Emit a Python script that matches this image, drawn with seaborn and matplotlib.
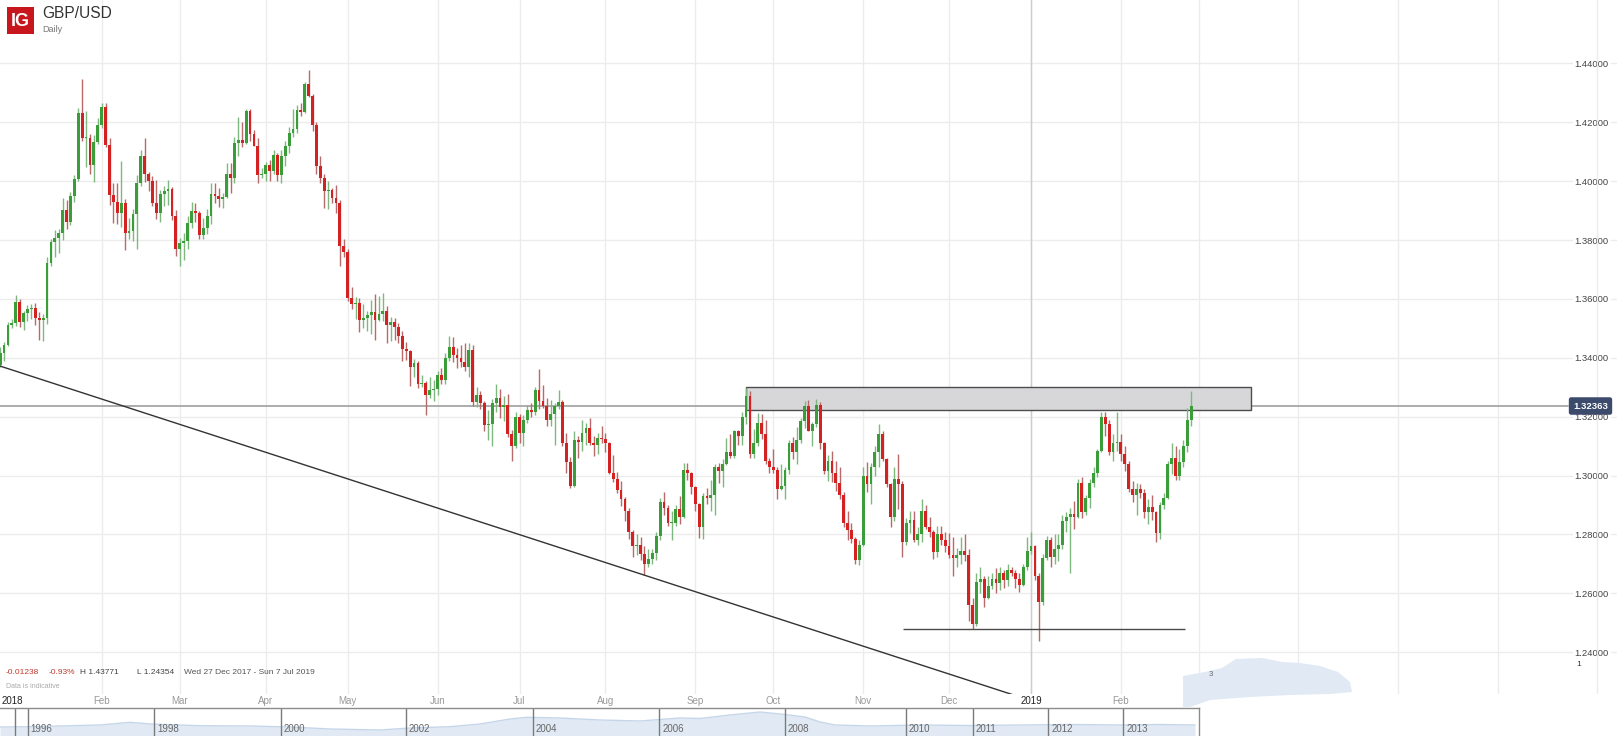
import numpy as np
import pandas as pd
import matplotlib
matplotlib.use("Agg")
import matplotlib.pyplot as plt
import seaborn as sns
from matplotlib.patches import Rectangle, Polygon

sns.set_theme(style="white")
plt.rcParams['font.family'] = ['Liberation Sans', 'DejaVu Sans']

# ---------------- data (GBP/USD daily, values in pips above 1.0000) ----------------
opens = [
    3375, 3416, 3445,
    3513, 3518, 3589, 3522, 3551, 3567, 3570, 3536, 3527, 3536, 3722, 3793, 3806, 3825, 3902, 3860, 3950, 4006, 4230, 4146, 4148, 4056, 4133,
    4192, 4252, 4123, 3952, 3929, 3890, 3925, 3825, 3830, 3888, 3995, 4085, 4023, 4000, 3925, 3890, 3955, 3965, 3972, 3880,
    3769, 3791, 3798, 3858, 3900, 3890, 3818, 3840, 3880, 3956, 3950, 3940, 3945, 4025, 4010, 4130, 4140, 4130, 4237, 4160, 4120, 4020,
    4025, 4055, 4035, 4090, 4020, 4085, 4120, 4165, 4178, 4240, 4235, 4330, 4290, 4192, 4052, 4012, 3966, 3970, 3942, 3925, 3778,
    3760, 3602, 3583, 3585, 3530, 3535, 3545, 3555, 3530, 3550, 3560, 3510, 3520, 3506, 3475, 3430, 3422, 3370, 3383, 3310, 3316, 3275, 3292,
    3295, 3342, 3325, 3400, 3435, 3410, 3400, 3385, 3370, 3425, 3250, 3275, 3245, 3172, 3175, 3245, 3265, 3232, 3240, 3140, 3100,
    3200, 3145, 3190, 3223, 3215, 3290, 3255, 3235, 3190, 3210, 3236, 3250, 3110, 3045, 2965, 3120, 3113, 3146, 3160, 3111, 3103, 3129,
    3125, 3110, 3010, 2990, 2952, 2920, 2880, 2810, 2760, 2765, 2735, 2700, 2717, 2737, 2795, 2910, 2890, 2838, 2840, 2885, 2860, 3020, 3010,
    2960, 2905, 2825, 2930, 2925, 2935, 3030, 3015, 3040, 3080, 3065, 3150, 3135, 3200, 3270, 3075, 3110, 3180, 3140, 3050,
    3030, 3018, 2953, 2965, 3020, 3110, 3080, 3120, 3185, 3235, 3152, 3175, 3240, 3110, 3016, 3050, 3010, 2975, 2935, 2838, 2815, 2785, 2715,
    2765, 3000, 2970, 3030, 3080, 3140, 3055, 2970, 2860, 2990, 2970, 2775, 2840, 2850, 2780, 2800, 2880, 2825, 2810, 2740, 2800, 2780,
    2760, 2730, 2720, 2730, 2745, 2730, 2560, 2495, 2640, 2650, 2585, 2625, 2650, 2635, 2670, 2645, 2680, 2670, 2650, 2630, 2690,
    2745, 2760, 2660, 2570, 2720, 2780, 2725, 2750, 2765, 2845, 2860, 2870, 2860, 2975, 2875, 2925, 2975, 3010, 3085, 3200, 3175, 3080, 3110,
    3115, 3075, 3040, 2955, 2935, 2955, 2940, 2875, 2895, 2875, 2805, 2900, 2925, 3040, 3060, 3000, 3045, 3100, 3190,
]
highs = [
    3435, 3455, 3523,
    3532, 3613, 3598, 3560, 3579, 3584, 3585, 3557, 3549, 3743, 3803, 3835, 3838, 3943, 3936, 3962, 4020, 4248, 4346, 4238, 4160, 4158, 4214,
    4266, 4265, 4146, 3994, 3993, 4068, 3938, 3875, 3904, 4020, 4106, 4145, 4030, 4018, 4005, 3970, 3985, 4005, 3980, 3902,
    3807, 3825, 3882, 3930, 3926, 3900, 3875, 3904, 3995, 3995, 3978, 3960, 4063, 4062, 4150, 4218, 4200, 4245, 4244, 4174, 4145, 4045,
    4065, 4070, 4105, 4095, 4105, 4135, 4185, 4245, 4260, 4265, 4338, 4377, 4295, 4200, 4085, 4025, 4000, 3975, 3988, 3935, 3802,
    3770, 3640, 3608, 3603, 3582, 3560, 3595, 3617, 3610, 3620, 3575, 3540, 3535, 3518, 3490, 3455, 3426, 3396, 3388, 3342, 3320, 3334, 3325,
    3355, 3365, 3415, 3475, 3472, 3433, 3442, 3450, 3450, 3445, 3302, 3286, 3252, 3224, 3260, 3310, 3295, 3270, 3277, 3156, 3215,
    3208, 3205, 3240, 3246, 3300, 3362, 3308, 3262, 3256, 3247, 3290, 3258, 3145, 3062, 3150, 3136, 3190, 3178, 3195, 3135, 3145, 3170,
    3144, 3115, 3070, 3011, 2980, 2929, 2890, 2815, 2800, 2790, 2760, 2750, 2750, 2810, 2925, 2946, 2900, 2880, 2900, 2930, 3042, 3043, 3013,
    2965, 2908, 2940, 2957, 2985, 3040, 3044, 3055, 3128, 3140, 3155, 3155, 3215, 3298, 3287, 3158, 3213, 3210, 3190, 3060,
    3090, 3030, 3040, 3030, 3120, 3130, 3165, 3195, 3255, 3258, 3182, 3259, 3250, 3115, 3070, 3085, 3050, 3030, 2945, 2880, 2840, 2792, 2780,
    3030, 3045, 3043, 3100, 3176, 3150, 3060, 2975, 3030, 3075, 2980, 2857, 2880, 2880, 2825, 2920, 2900, 2860, 2815, 2830, 2830, 2810,
    2805, 2790, 2755, 2790, 2800, 2750, 2585, 2670, 2690, 2660, 2660, 2670, 2685, 2690, 2680, 2700, 2690, 2680, 2670, 2700, 2790,
    2810, 2765, 2670, 2735, 2795, 2790, 2800, 2800, 2865, 2875, 2890, 2915, 2990, 2995, 2935, 2990, 3030, 3090, 3215, 3215, 3190, 3140, 3215,
    3140, 3100, 3050, 2980, 2975, 2970, 2955, 2920, 2935, 2880, 2910, 2940, 3050, 3110, 3100, 3090, 3120, 3230, 3288,
]
lows = [
    3370, 3390, 3440,
    3500, 3508, 3503, 3494, 3525, 3533, 3512, 3459, 3457, 3516, 3712, 3743, 3756, 3800, 3837, 3852, 3930, 4000, 4135, 4049, 4023, 3997, 4125,
    4180, 4116, 3920, 3857, 3856, 3845, 3765, 3803, 3798, 3770, 3983, 3998, 3966, 3915, 3870, 3862, 3917, 3920, 3867, 3745,
    3712, 3733, 3770, 3840, 3860, 3805, 3805, 3820, 3855, 3925, 3912, 3910, 3942, 3960, 3995, 4085, 4115, 4125, 4135, 4118, 3995, 4010,
    4000, 4000, 4025, 4000, 3995, 4050, 4095, 4150, 4165, 4220, 4230, 4285, 4170, 4025, 3995, 3910, 3905, 3925, 3890, 3712, 3742,
    3593, 3567, 3533, 3488, 3500, 3490, 3480, 3460, 3526, 3525, 3450, 3457, 3460, 3450, 3390, 3392, 3305, 3336, 3298, 3300, 3205, 3264, 3255,
    3275, 3310, 3312, 3390, 3385, 3365, 3368, 3354, 3335, 3235, 3233, 3225, 3150, 3120, 3100, 3217, 3195, 3186, 3130, 3050, 3095,
    3112, 3100, 3178, 3200, 3206, 3225, 3228, 3170, 3170, 3105, 3225, 3102, 3010, 2957, 2960, 3060, 3085, 3105, 3105, 3065, 3074, 3110,
    3080, 3005, 2977, 2940, 2898, 2845, 2786, 2723, 2730, 2715, 2662, 2690, 2700, 2715, 2780, 2866, 2830, 2780, 2830, 2834, 2855, 2985, 2939,
    2880, 2787, 2785, 2905, 2880, 2865, 2975, 2960, 3035, 3060, 3060, 3105, 3105, 3175, 3060, 3060, 3100, 3125, 3040, 3008,
    3010, 2920, 2950, 2920, 3005, 3055, 3040, 3110, 3160, 3150, 3100, 3165, 3090, 3005, 2980, 2978, 2948, 2920, 2825, 2780, 2770, 2700, 2695,
    2760, 2943, 2905, 3000, 3030, 3050, 2960, 2825, 2845, 2885, 2723, 2765, 2805, 2775, 2765, 2775, 2818, 2790, 2718, 2723, 2765, 2740,
    2720, 2660, 2690, 2700, 2710, 2505, 2478, 2490, 2600, 2555, 2580, 2615, 2600, 2610, 2620, 2625, 2660, 2620, 2605, 2625, 2680,
    2735, 2645, 2438, 2560, 2715, 2690, 2700, 2710, 2750, 2810, 2670, 2820, 2855, 2855, 2865, 2890, 2960, 2995, 3080, 3135, 3070, 3050, 3085,
    3050, 3015, 2945, 2910, 2865, 2925, 2855, 2835, 2850, 2775, 2785, 2885, 2920, 3005, 2985, 2985, 3030, 3080, 3170,
]
closes = [
    3416, 3445, 3513,
    3518, 3589, 3522, 3551, 3567, 3570, 3536, 3527, 3536, 3722, 3793, 3806, 3825, 3902, 3860, 3950, 4006, 4230, 4146, 4148, 4056, 4133, 4192,
    4252, 4123, 3952, 3929, 3890, 3925, 3825, 3830, 3888, 3995, 4085, 4023, 4000, 3925, 3890, 3955, 3965, 3972, 3880, 3769,
    3791, 3798, 3858, 3900, 3890, 3818, 3840, 3880, 3956, 3950, 3940, 3945, 4025, 4010, 4130, 4140, 4130, 4237, 4160, 4120, 4020, 4025,
    4055, 4035, 4090, 4020, 4085, 4120, 4165, 4178, 4240, 4235, 4330, 4290, 4192, 4052, 4012, 3966, 3970, 3942, 3925, 3778, 3760,
    3602, 3583, 3585, 3530, 3535, 3545, 3555, 3530, 3550, 3560, 3510, 3520, 3506, 3475, 3430, 3422, 3370, 3383, 3310, 3316, 3275, 3292, 3295,
    3342, 3325, 3400, 3435, 3410, 3400, 3385, 3370, 3425, 3250, 3275, 3245, 3172, 3175, 3245, 3265, 3232, 3240, 3140, 3100, 3200,
    3145, 3190, 3223, 3215, 3290, 3255, 3235, 3190, 3210, 3236, 3250, 3110, 3045, 2965, 3120, 3113, 3146, 3160, 3111, 3103, 3129, 3125,
    3110, 3010, 2990, 2952, 2920, 2880, 2810, 2760, 2765, 2735, 2700, 2717, 2737, 2795, 2910, 2890, 2838, 2840, 2885, 2860, 3020, 3010, 2960,
    2905, 2825, 2930, 2925, 2935, 3030, 3015, 3040, 3080, 3065, 3150, 3135, 3200, 3270, 3075, 3110, 3180, 3140, 3050, 3030,
    3018, 2953, 2965, 3020, 3110, 3080, 3120, 3185, 3235, 3152, 3175, 3240, 3110, 3016, 3050, 3010, 2975, 2935, 2838, 2815, 2785, 2715, 2765,
    3000, 2970, 3030, 3080, 3140, 3055, 2970, 2860, 2990, 2970, 2775, 2840, 2850, 2780, 2800, 2880, 2825, 2810, 2740, 2800, 2780, 2760,
    2730, 2720, 2730, 2745, 2730, 2560, 2495, 2640, 2650, 2585, 2625, 2650, 2635, 2670, 2645, 2680, 2670, 2650, 2630, 2690, 2745,
    2760, 2660, 2570, 2720, 2780, 2725, 2750, 2765, 2845, 2860, 2870, 2860, 2975, 2875, 2925, 2975, 3010, 3085, 3200, 3175, 3080, 3110, 3115,
    3075, 3040, 2955, 2935, 2955, 2940, 2875, 2895, 2875, 2805, 2900, 2925, 3040, 3060, 3000, 3045, 3100, 3190, 3236,
]
first_day = "2017-12-27"

month_labels = ["2018", "Feb", "Mar", "Apr", "May", "Jun", "Jul", "Aug", "Sep", "Oct", "Nov", "Dec", "2019", "Feb"]
y_ticks = [1.24, 1.26, 1.28, 1.30, 1.32, 1.34, 1.36, 1.38, 1.40, 1.42, 1.44]

last_price = 1.32363
zone_low, zone_high = 1.3223, 1.3300          # resistance zone
support_level = 1.2478                          # double-bottom support
trend_start, trend_end = 1.3372, 1.2255         # falling trend line

info_change, info_pct = "-0.01238", "-0.93%"
info_high, info_low = "H 1.43771", "L 1.24354"
info_range = "Wed 27 Dec 2017 - Sun 7 Jul 2019"

# navigator (overview strip) series
nav_years = ["1996", "1998", "2000", "2002", "2004", "2006", "2008", "2010", "2011", "2012", "2013"]
nav_x = [0, 30, 60, 100, 130, 150, 200, 250, 290, 330, 380, 410, 450, 480, 510, 527, 560, 600, 640, 680,
         700, 730, 760, 785, 805, 820, 835, 870, 920, 970, 1020, 1070, 1120, 1160, 1195]
nav_level = [9, 9.3, 10, 11, 13.7, 12, 10.3, 10, 9, 7, 6, 8, 9.3, 12, 17, 18.7, 18, 16, 15, 18,
             17.5, 21, 24, 21.5, 19, 14, 11, 10, 11, 10.5, 11, 11.5, 11, 11.5, 11]

# ---------------- layout ----------------
W, H = 1617, 736
X0_PX, PX_PER_DAY = 0.16, 3.905
PLOT_BOTTOM_PX = 694
GREEN, RED = "#3a9d3a", "#d42222"
GREEN_W, RED_W = "#7fb87f", "#b86a6a"


def fx(px):
    return px / W


def fy(py):
    return 1 - py / H


def px2idx(px):
    return (px - X0_PX) / PX_PER_DAY


o = 1 + np.array(opens) / 1e4
h = 1 + np.array(highs) / 1e4
l = 1 + np.array(lows) / 1e4
c = 1 + np.array(closes) / 1e4
assert len(o) == len(h) == len(l) == len(c)
dates = pd.bdate_range(first_day, periods=len(c))
idx = np.arange(len(c))

fig = plt.figure(figsize=(W / 100, H / 100), dpi=100)
ax = fig.add_axes([0, fy(PLOT_BOTTOM_PX), 1, PLOT_BOTTOM_PX / H])
ax.set_xlim(px2idx(0), px2idx(W))
ax.set_ylim(1.44 - (PLOT_BOTTOM_PX - 63.3) / 2945, 1.44 + 63.3 / 2945)
for s in ax.spines.values():
    s.set_visible(False)
ax.set_facecolor("white")

# month ticks
month_starts = pd.date_range("2018-01-01", "2019-02-01", freq="MS")
month_pos = dates.searchsorted(month_starts)
ax.set_xticks(month_pos, month_labels)
ax.tick_params(axis="x", length=0, pad=1.5, labelsize=7, labelcolor="#999999")
for lab in ax.get_xticklabels():
    if lab.get_text().isdigit():
        lab.set_color("#222222")

# vertical gridlines (month starts + forward area)
future_grid = [px2idx(1298), px2idx(1398), px2idx(1498), px2idx(1597)]
for p in list(month_pos[1:]) + future_grid:
    ax.axvline(p, color="#ececec", lw=1, zorder=0.6)
ax.axvline(month_pos[12], color="#cdcdcd", lw=1, zorder=0.7)
ax.axvline(dates.searchsorted(pd.Timestamp("2019-03-01")) + 1, color="#ececec", lw=1, zorder=0.6)

# y axis
ax.set_yticks(y_ticks, [f"{v:.5f}" for v in y_ticks])
ax.yaxis.tick_right()
ax.tick_params(axis="y", length=0, pad=-30.5, labelsize=6.8, labelcolor="#444444",
               labelright=True, labelleft=False)
ax.grid(axis="y", color="#ececec", lw=1)
for t in ax.yaxis.get_major_ticks():
    t.label2.set_bbox(dict(facecolor="white", edgecolor="none", pad=1.5))

# price line + resistance zone
ax.axhline(last_price, xmin=0, xmax=fx(1568), color="#a6a6a6", lw=1.3, zorder=1.8)
zone_l, zone_r = px2idx(745.7), px2idx(1251)
ax.add_patch(Rectangle((zone_l, zone_low), zone_r - zone_l, zone_high - zone_low,
                       facecolor="#d7d7d9", edgecolor="#4d4d4d", lw=1, zorder=2))

# candles
up = c >= o
ax.vlines(idx, l, h, colors=np.where(up, GREEN_W, RED_W), lw=1, zorder=3)
ax.bar(idx, np.maximum(np.abs(c - o), 0.0003), bottom=np.minimum(o, c), width=0.72,
       color=np.where(up, GREEN, RED), lw=0, zorder=4)

# support + trend line
ax.hlines(support_level, px2idx(903.3), px2idx(1185), color="#4a4a4a", lw=1, zorder=5)
ax.plot([px2idx(0), px2idx(1013.7)], [trend_start, trend_end], color="#333333", lw=1, zorder=5)

# price label
ax.text(fx(1590.5), last_price, f"{last_price:.5f}", transform=ax.get_yaxis_transform(),
        ha="center", va="center", color="white", fontsize=6.8, fontweight="bold", zorder=10,
        bbox=dict(boxstyle="round,pad=0.45,rounding_size=0.25", facecolor="#3c4b6b", edgecolor="none"))

# ---------------- header ----------------
fig.add_artist(Rectangle((fx(7), fy(34)), 27 / W, 27 / H, transform=fig.transFigure,
                         facecolor="#c8161d", edgecolor="none"))
fig.text(fx(20.5), fy(21), "IG", color="white", fontsize=13, fontweight="bold", ha="center", va="center")
fig.text(fx(42), fy(14), "GBP/USD", color="#333333", fontsize=11.2, ha="left", va="center")
fig.text(fx(42), fy(29), "Daily", color="#777777", fontsize=6.5, ha="left", va="center")

# ---------------- info line ----------------
fig.text(fx(6), fy(672), info_change, color="#c0392b", fontsize=6, va="center")
fig.text(fx(49), fy(672), info_pct, color="#c0392b", fontsize=6, va="center")
fig.text(fx(80), fy(672), info_high, color="#444444", fontsize=6, va="center")
fig.text(fx(137), fy(672), info_low, color="#444444", fontsize=6, va="center")
fig.text(fx(184), fy(672), info_range, color="#555555", fontsize=6, va="center")
fig.text(fx(6), fy(687), "Data is indicative", color="#aaaaaa", fontsize=5, va="center")

# ---------------- floating overview blob ----------------
blob = [(1183, 676), (1205, 672), (1222, 668), (1236, 659), (1262, 658), (1282, 662), (1300, 663),
        (1320, 666), (1338, 672), (1350, 682), (1352, 692), (1330, 694), (1290, 695), (1250, 697),
        (1210, 700), (1190, 707), (1183, 707)]
fig.add_artist(Polygon([(fx(x), fy(y)) for x, y in blob], closed=True, transform=fig.transFigure,
                       facecolor="#e0e9f4", edgecolor="none", zorder=5))
fig.text(fx(1211), fy(674), "3", color="#666666", fontsize=5.5, ha="center", va="center", zorder=6)
fig.text(fx(1579), fy(665), "1", color="#333333", fontsize=6, ha="center", va="center")

# ---------------- navigator ----------------
nav = fig.add_axes([0, 0, fx(1199), 28 / H])
nav.set_xlim(0, 1199)
nav.set_ylim(0, 28)
nav.fill_between(nav_x, 0, nav_level, color="#e1eaf4", lw=0)
sns.lineplot(x=nav_x, y=nav_level, ax=nav, color="#c6d6e9", lw=1, legend=False)
nav_year_px = [27.7, 154, 280.7, 406, 532.7, 659.3, 785, 905.7, 972.7, 1048.3, 1123.3]
nav.axvline(15, color="#7a7a7a", lw=1)
for p, lab in zip(nav_year_px, nav_years):
    nav.axvline(p, color="#7a7a7a", lw=1)
    nav.text(p + 3, 7, lab, color="#666666", fontsize=7, ha="left", va="center")
nav.set_xticks([])
nav.set_yticks([])
nav.set_xlabel("")
nav.set_ylabel("")
for side in ["left", "bottom"]:
    nav.spines[side].set_visible(False)
for side in ["top", "right"]:
    nav.spines[side].set_visible(True)
    nav.spines[side].set_color("#8c8c8c")
    nav.spines[side].set_linewidth(1)
nav.patch.set_alpha(0)

fig.savefig("out.png", dpi=100)
